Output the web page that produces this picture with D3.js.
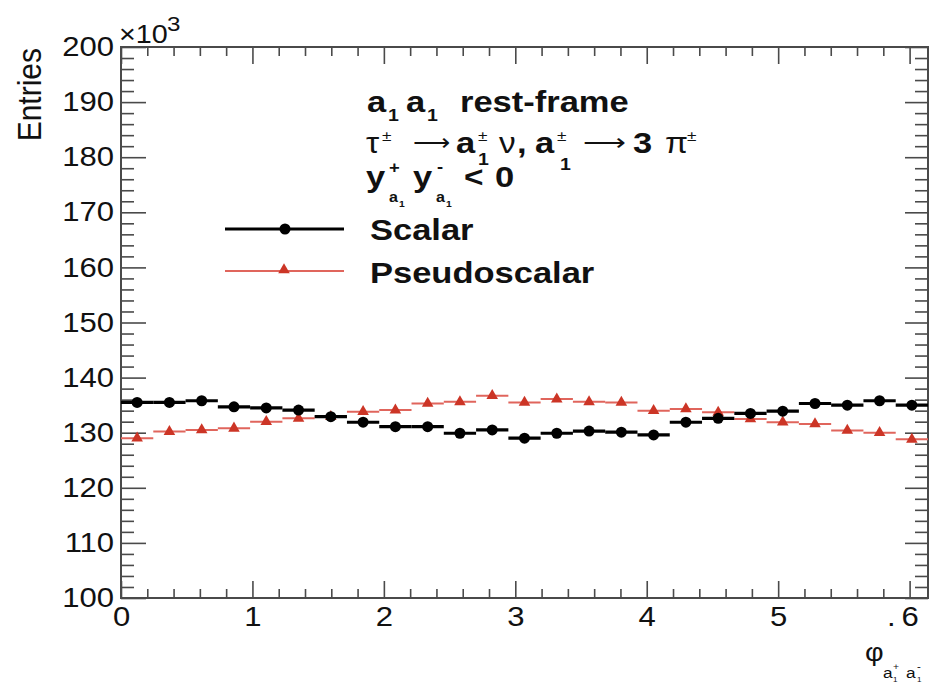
<!DOCTYPE html>
<html>
<head>
<meta charset="utf-8">
<script src="https://cdn.jsdelivr.net/npm/d3@7"></script>
<style>
  body { margin: 0; background: #fff; }
  svg { display: block; }
  text { font-family: "Liberation Sans", Arial, Helvetica, sans-serif; fill: #111; }
</style>
</head>
<body>
<svg id="chart" width="933" height="684"></svg>
<script>
// ---- data (entries per bin, in thousands) ----
const seriesNames = ["Scalar", "Pseudoscalar"];
const scalar = [135.5, 135.5, 135.8, 134.7, 134.5, 134.1, 132.9, 131.9, 131.1, 131.1, 129.9, 130.5,
                129.0, 129.9, 130.3, 130.1, 129.6, 131.9, 132.6, 133.5, 133.9, 135.3, 135.0, 135.8, 135.0];
const pseudoscalar = [129.0, 130.2, 130.5, 130.8, 132.0, 132.6, 132.9, 133.8, 134.1, 135.3, 135.6, 136.7,
                      135.5, 136.1, 135.6, 135.5, 134.0, 134.3, 133.7, 132.5, 131.9, 131.6, 130.4, 130.0, 128.8];
const xTickValues = [0, 1, 2, 3, 4, 5, 6];
const xTickLabels = ["0", "1", "2", "3", "4", "5", "6"];
const yTickValues = [100, 110, 120, 130, 140, 150, 160, 170, 180, 190, 200];
const yTickLabels = ["100", "110", "120", "130", "140", "150", "160", "170", "180", "190", "200"];
const xRange = [0, 6.14];
const yRange = [100, 200];

// ---- frame ----
const L = 121, R = 928, T = 47, B = 598;
const SX = 1.15;               // horizontal stretch of the lettering
const axisColor = "#4a4a4a";
const svg = d3.select("#chart");

const x = d3.scaleLinear().domain(xRange).range([L, R]);
const y = d3.scaleLinear().domain(yRange).range([B, T]);

const nBins = scalar.length;
const binW = (xRange[1] - xRange[0]) / nBins;
const binLo = i => xRange[0] + i * binW;
const binMid = i => binLo(i) + binW / 2;

// minor tick positions
const xMinor = d3.range(0, 61, 2).map(v => v / 10).filter(v => v <= xRange[1] && Math.round(v * 10) % 10 !== 0);
const yMinor = d3.range(100, 201, 2).filter(v => v % 10 !== 0);

function styleAxis(g) {
  g.select(".domain").remove();
  g.selectAll(".tick line").attr("stroke", axisColor).attr("stroke-width", 1.6);
}

// left axis
svg.append("g").attr("transform", `translate(${L},0)`)
  .call(d3.axisLeft(y).tickValues(yMinor).tickSize(-13).tickFormat(""))
  .call(styleAxis);
svg.append("g").attr("transform", `translate(${L},0)`)
  .call(d3.axisLeft(y).tickValues(yTickValues).tickSize(-25).tickPadding(6)
        .tickFormat((d, i) => yTickLabels[i]))
  .call(styleAxis)
  .call(g => g.selectAll("text")
    .attr("font-size", 27).attr("fill", "#111")
    .attr("font-family", "'Liberation Sans', Arial, sans-serif")
    .attr("transform", `scale(${SX},1)`));

// right axis
svg.append("g").attr("transform", `translate(${R},0)`)
  .call(d3.axisRight(y).tickValues(yMinor).tickSize(-13).tickFormat(""))
  .call(styleAxis);
svg.append("g").attr("transform", `translate(${R},0)`)
  .call(d3.axisRight(y).tickValues(yTickValues).tickSize(-23).tickFormat(""))
  .call(styleAxis);

// bottom axis
svg.append("g").attr("transform", `translate(0,${B})`)
  .call(d3.axisBottom(x).tickValues(xMinor).tickSize(-9).tickFormat(""))
  .call(styleAxis);
svg.append("g").attr("transform", `translate(0,${B})`)
  .call(d3.axisBottom(x).tickValues(xTickValues).tickSize(-17)
        .tickFormat((d, i) => xTickLabels[i]))
  .call(styleAxis)
  .call(g => g.selectAll("text")
    .attr("y", 28).attr("dy", 0)
    .attr("font-size", 27).attr("fill", "#111")
    .attr("font-family", "'Liberation Sans', Arial, sans-serif")
    .attr("transform", `scale(${SX},1)`));

// top axis
svg.append("g").attr("transform", `translate(0,${T})`)
  .call(d3.axisTop(x).tickValues(xMinor).tickSize(-9).tickFormat(""))
  .call(styleAxis);
svg.append("g").attr("transform", `translate(0,${T})`)
  .call(d3.axisTop(x).tickValues(xTickValues).tickSize(-17).tickFormat(""))
  .call(styleAxis);

// frame
svg.append("rect").attr("x", L).attr("y", T).attr("width", R - L).attr("height", B - T)
  .attr("fill", "none").attr("stroke", axisColor).attr("stroke-width", 2);

// ---- text helper: one piece of (stretched) lettering at an absolute spot ----
function put(px, py, str, size, opts = {}) {
  const t = svg.append("text")
    .attr("transform", `translate(${px},${py}) scale(${opts.sx || SX},1)`)
    .attr("font-size", size)
    .attr("font-weight", opts.bold ? "bold" : "normal")
    .attr("text-anchor", opts.anchor || "start")
    .text(str);
  if (opts.family) t.attr("font-family", opts.family);
  return t;
}

// stray dot before the last x label
put(887, 626, ".", 27);

// exponent
put(119, 43, "\u00d710", 25);
put(167, 31, "3", 21);

// y title
svg.append("text")
  .attr("transform", `translate(41,48) rotate(-90) scale(1,1.1)`)
  .attr("text-anchor", "end").attr("font-size", 30)
  .text("Entries");

// x title  φ_{a1+ a1-}
put(865, 661, "\u03c6", 25);
put(883, 678, "a", 15);
put(893, 670, "+", 9);
put(893, 682, "1", 7);
put(906, 678, "a", 15);
put(917, 670, "-", 10);
put(917, 682, "1", 7);

// ---- info text ----
const arrowFont = "'DejaVu Sans', sans-serif";
// line 1: a1 a1 rest-frame
put(367, 112, "a", 30, {bold: true});
put(388, 121, "1", 17, {bold: true});
put(406, 112, "a", 30, {bold: true});
put(427, 121, "1", 17, {bold: true});
put(460, 112, "rest-frame", 30, {bold: true});

// line 2: τ± → a1± ν, a1± → 3 π±
put(366, 153, "\u03c4", 29);
put(382, 141, "\u00b1", 15);
put(431, 151, "\u27f6", 26, {sx: 1.0, family: arrowFont, anchor: "middle"});
put(456, 153, "a", 30, {bold: true});
put(478, 141, "\u00b1", 15);
put(478, 165, "1", 17, {bold: true});
put(499, 153, "\u03bd", 29);
put(517, 153, ",", 30, {bold: true});
put(535, 153, "a", 30, {bold: true});
put(557, 141, "\u00b1", 15);
put(560, 170, "1", 17, {bold: true});
put(604, 151, "\u27f6", 26, {sx: 1.15, family: arrowFont, anchor: "middle"});
put(633, 153, "3", 30, {bold: true});
put(665, 153, "\u03c0", 29);
put(687, 141, "\u00b1", 15);

// line 3: y+_{a1} y-_{a1} < 0
put(366, 187, "y", 30, {bold: true});
put(389, 173, "+", 16, {bold: true});
put(389, 202, "a", 14, {bold: true});
put(399, 207, "1", 9, {bold: true});
put(413, 187, "y", 30, {bold: true});
put(437, 172, "-", 16, {bold: true});
put(436, 202, "a", 14, {bold: true});
put(446, 207, "1", 9, {bold: true});
put(464, 187, "<", 29, {bold: true});
put(495, 187, "0", 30, {bold: true});

// ---- series ----
const scalarColor = "#000";
const pseudoLine = "#e0655c";
const pseudoMarker = "#cc3526";
const tri = d3.symbol().type(d3.symbolTriangle).size(58);

// pseudoscalar: bin-wide bars with triangle markers
const gP = svg.append("g");
gP.selectAll("line").data(pseudoscalar).join("line")
  .attr("x1", (d, i) => x(binLo(i))).attr("x2", (d, i) => x(binLo(i) + binW))
  .attr("y1", d => y(d)).attr("y2", d => y(d))
  .attr("stroke", pseudoLine).attr("stroke-width", 2);
gP.selectAll("path").data(pseudoscalar).join("path")
  .attr("d", tri)
  .attr("transform", (d, i) => `translate(${x(binMid(i))},${y(d)})`)
  .attr("fill", pseudoMarker);

// scalar: bin-wide bars with circle markers
const gS = svg.append("g");
gS.selectAll("line").data(scalar).join("line")
  .attr("x1", (d, i) => x(binLo(i))).attr("x2", (d, i) => x(binLo(i) + binW))
  .attr("y1", d => y(d)).attr("y2", d => y(d))
  .attr("stroke", scalarColor).attr("stroke-width", 3.2);
gS.selectAll("circle").data(scalar).join("circle")
  .attr("cx", (d, i) => x(binMid(i))).attr("cy", d => y(d))
  .attr("r", 5.5).attr("fill", scalarColor);

// ---- legend ----
const leg = svg.append("g");
leg.append("line").attr("x1", 225).attr("x2", 344).attr("y1", 229).attr("y2", 229)
  .attr("stroke", scalarColor).attr("stroke-width", 3.2);
leg.append("circle").attr("cx", 285).attr("cy", 229).attr("r", 5.5).attr("fill", scalarColor);
put(370, 240, seriesNames[0], 30, {bold: true});

leg.append("line").attr("x1", 225).attr("x2", 344).attr("y1", 271).attr("y2", 271)
  .attr("stroke", pseudoLine).attr("stroke-width", 2);
leg.append("path").attr("d", tri).attr("transform", "translate(284,270)").attr("fill", pseudoMarker);
put(370, 283, seriesNames[1], 30, {bold: true});
</script>
</body>
</html>
